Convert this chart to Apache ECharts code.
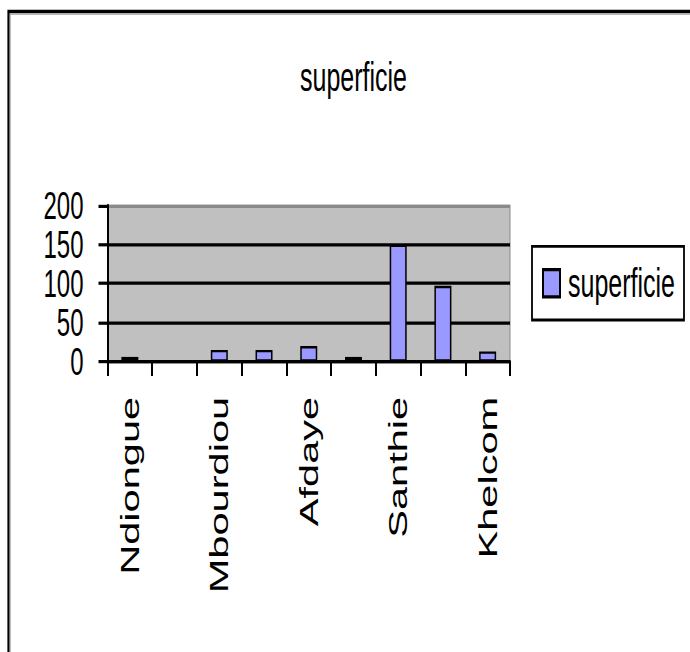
<!DOCTYPE html>
<html>
<head>
<meta charset="utf-8">
<script src="https://cdn.jsdelivr.net/npm/echarts@6/dist/echarts.min.js"></script>
<style>
  html, body { margin: 0; padding: 0; background: #fff; overflow: hidden; }
  #wrap { width: 690px; height: 652px; position: relative; overflow: hidden; }
  #chart { width: 690px; height: 407.5px; transform: scale(1, 1.6); transform-origin: 0 0; }
</style>
</head>
<body>
<div id="wrap"><div id="chart"></div></div>
<script>
// Data (categories 2, 4, 6 and 8 have labels hidden in the original chart)
const categories = ['Ndiongue', '', 'Mbourdiou', '', 'Afdaye', '', 'Santhie', '', 'Khelcom'];
const superficie = [6, 0, 15, 15, 20, 6, 150, 97, 13];
const seriesName = 'superficie';
const titleText = 'superficie';
const yTicks = { min: 0, max: 200, interval: 50 };

const FONT = '"Liberation Sans", Arial, sans-serif';
const chart = echarts.init(document.getElementById('chart'), null, { renderer: 'svg' });
chart.setOption({
  animation: false,
  backgroundColor: '#fff',
  textStyle: { fontFamily: FONT, color: '#000' },
  title: {
    text: titleText,
    left: 300, top: 36, padding: 0,
    textStyle: { fontFamily: FONT, fontSize: 25, fontWeight: 'normal', color: '#000', lineHeight: 25 }
  },
  legend: {
    left: 532, top: 154,
    orient: 'vertical',
    padding: [10, 9, 10, 10],
    borderColor: '#000', borderWidth: 1.8,
    backgroundColor: '#fff',
    itemWidth: 17, itemHeight: 17,
    icon: 'rect',
    textStyle: { fontFamily: FONT, fontSize: 25, color: '#000', lineHeight: 26, padding: [0, 0, 0, 3] },
    data: [seriesName]
  },
  grid: {
    left: 107.5, right: 180, top: 128.4, height: 97.6,
    show: true, backgroundColor: '#C0C0C0', borderColor: '#8a8a8a', borderWidth: 1
  },
  xAxis: {
    type: 'category',
    data: categories,
    boundaryGap: true,
    axisLine: { lineStyle: { color: '#000', width: 2 } },
    axisTick: { show: true, interval: 0, length: 9, lineStyle: { color: '#000', width: 2 } },
    axisLabel: { interval: 1, rotate: 90, margin: 22, fontFamily: FONT, fontSize: 26, color: '#000' },
    splitLine: { show: false }
  },
  yAxis: {
    type: 'value',
    min: yTicks.min, max: yTicks.max, interval: yTicks.interval,
    axisLine: { show: true, lineStyle: { color: '#000', width: 2 } },
    axisTick: { show: true, length: 9, lineStyle: { color: '#000', width: 2 } },
    axisLabel: { margin: 24, fontFamily: FONT, fontSize: 24, color: '#000' },
    splitLine: { show: true, lineStyle: { color: ['#000', '#000', '#000', '#000', '#8a8a8a'], width: 2 } }
  },
  graphic: [
    { type: 'rect', shape: { x: 8.5, y: 7.2, width: 900, height: 900 }, style: { fill: 'none', stroke: '#000', lineWidth: 2.2 }, silent: true, z: 100 },
    { type: 'rect', shape: { x: 10.3, y: 8.8, width: 900, height: 900 }, style: { fill: 'none', stroke: '#a0a0a0', lineWidth: 0.8 }, silent: true, z: 100 }
  ],
  series: [{
    name: seriesName,
    type: 'bar',
    data: superficie,
    barWidth: 17,
    itemStyle: { color: '#9999FF', borderColor: '#000', borderWidth: 1.5 }
  }]
});
</script>
</body>
</html>
